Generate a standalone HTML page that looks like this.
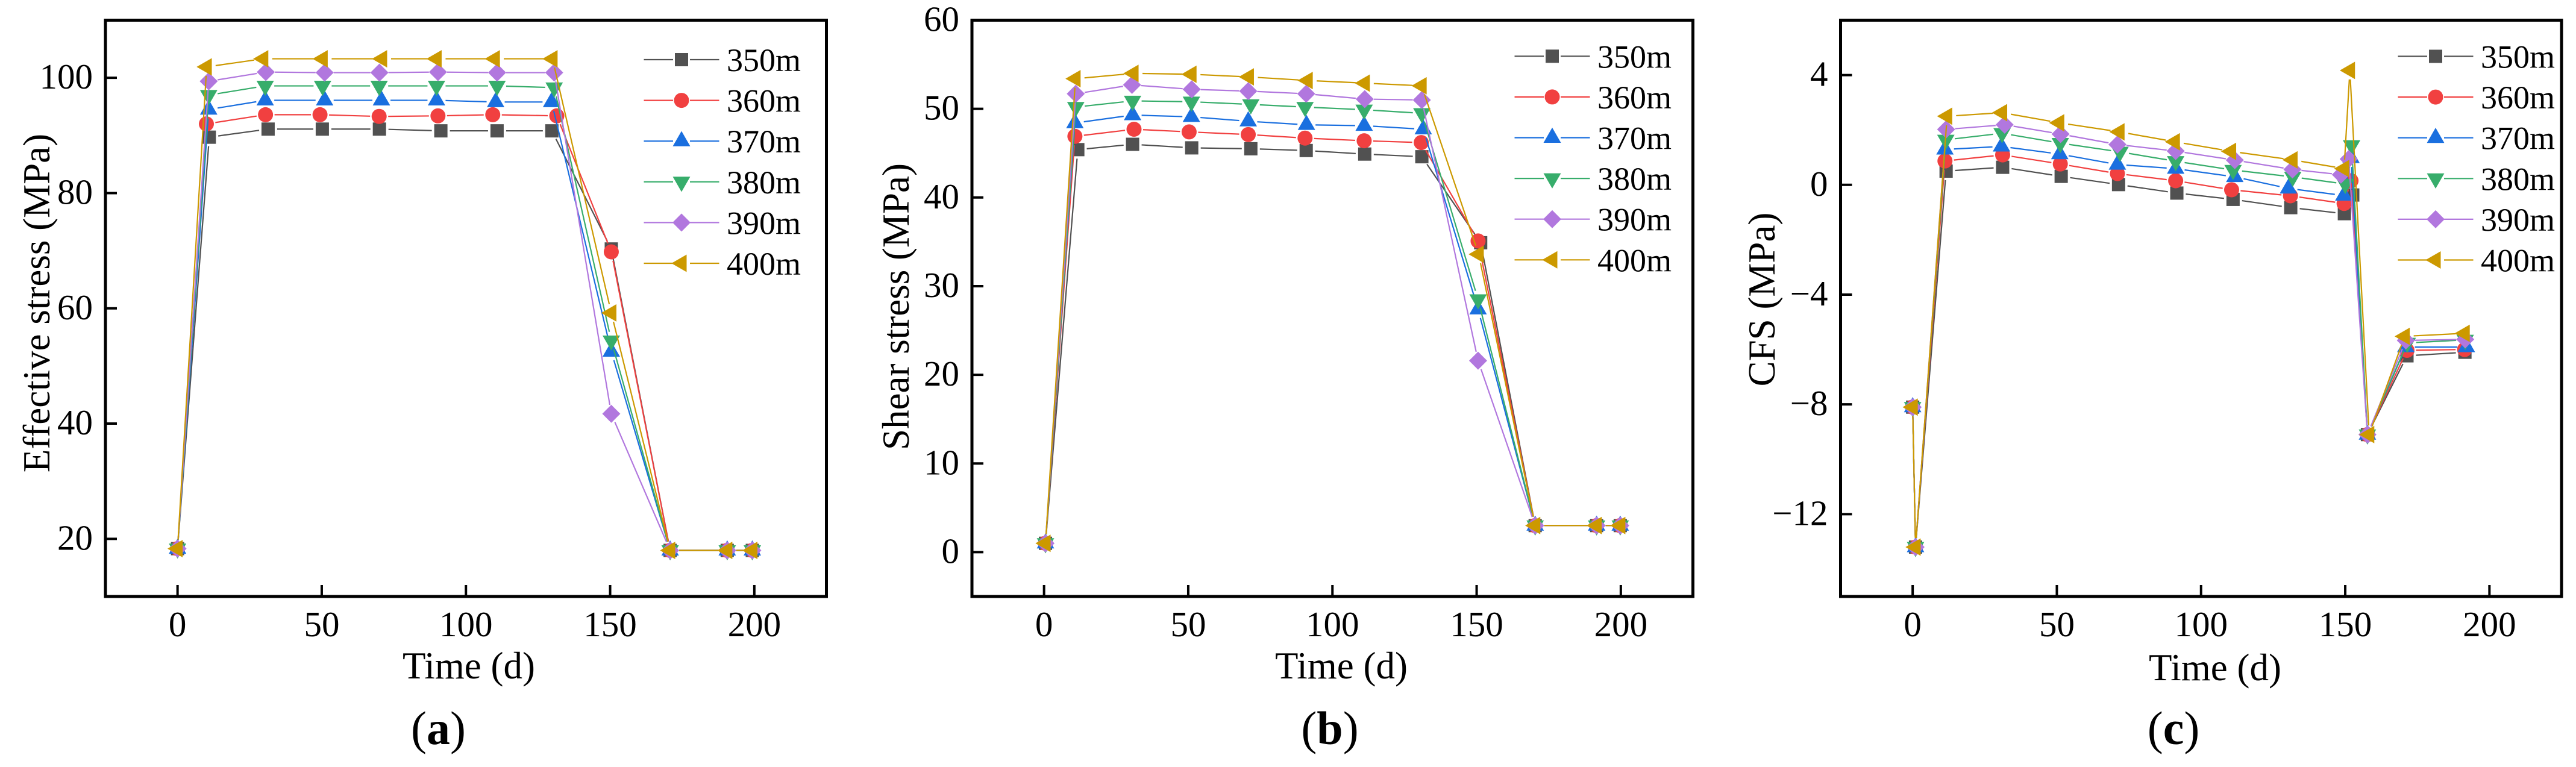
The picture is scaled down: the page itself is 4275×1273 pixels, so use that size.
<!DOCTYPE html>
<html lang="en">
<head>
<meta charset="utf-8">
<title>Effective stress, shear stress and CFS over time</title>
<style>
html,body{margin:0;padding:0;background:#fff;}
body{width:4275px;height:1273px;overflow:hidden;}
svg{display:block;font-family:"Liberation Serif","Times New Roman",serif;fill:#000;}
.frame{fill:none;stroke:#000;stroke-width:5;}
.tick{stroke:#000;stroke-width:4;}
.tick-label{font-size:59px;}
.axis-title{font-size:63px;}
.legend-label{font-size:54px;}
.panel-label{font-size:78px;}
.panel-label tspan{font-weight:bold;}
.line{fill:none;stroke-width:2.2;}
.s0{stroke:#515151;fill:#515151;}
.s1{stroke:#F14040;fill:#F14040;}
.s2{stroke:#1A6FDF;fill:#1A6FDF;}
.s3{stroke:#37AD6B;fill:#37AD6B;}
.s4{stroke:#B177DE;fill:#B177DE;}
.s5{stroke:#CC9900;fill:#CC9900;}
.marker{stroke:none;}
</style>
</head>
<body>
<svg id="figure" xmlns="http://www.w3.org/2000/svg" width="4275" height="1273" viewBox="0 0 4275 1273">
  <rect x="0" y="0" width="4275" height="1273" fill="#fff"/>

  <g id="panel-a">
    <text class="axis-title" text-anchor="middle" transform="translate(82,503) rotate(-90)">Effective stress (MPa)</text>
    <text class="axis-title" text-anchor="middle" x="778" y="1126">Time (d)</text>
    <text class="panel-label" text-anchor="middle" x="727.5" y="1235">(<tspan>a</tspan>)</text>
  </g>

  <g id="panel-b">
    <text class="axis-title" text-anchor="middle" transform="translate(1508,509) rotate(-90)">Shear stress (MPa)</text>
    <text class="axis-title" text-anchor="middle" x="2226" y="1126">Time (d)</text>
    <text class="panel-label" text-anchor="middle" x="2207" y="1235">(<tspan>b</tspan>)</text>
  </g>

  <g id="panel-c">
    <text class="axis-title" text-anchor="middle" transform="translate(2945,497) rotate(-90)">CFS (MPa)</text>
    <text class="axis-title" text-anchor="middle" x="3676" y="1129">Time (d)</text>
    <text class="panel-label" text-anchor="middle" x="3607" y="1235">(<tspan>c</tspan>)</text>
  </g>
</svg>

<script>
const seriesLabels = ['350m', '360m', '370m', '380m', '390m', '400m'];
const xTickValues = [0, 50, 100, 150, 200];
const xTickLabels = ['0', '50', '100', '150', '200'];

/* Panel (a): effective stress */
const aYTickValues = [20, 40, 60, 80, 100];
const aYTickLabels = ['20', '40', '60', '80', '100'];
const aTime350 = [0, 11, 31.4, 50.2, 70, 91.3, 110.8, 129.8, 150.4, 170.8, 190.6, 199.3];
const aTime360 = [0, 10, 30.5, 49.4, 69.9, 90.3, 109.3, 131.5, 150.4, 170.8, 190.6, 199.3];
const aTime370 = [0, 10.8, 30.4, 51, 70.7, 89.8, 110.3, 129.7, 150.4, 170.8, 190.6, 199.3];
const aTime380 = [0, 10.8, 30.4, 50.3, 69.9, 89.8, 110.8, 130.6, 150.4, 170.8, 190.6, 199.3];
const aTime390 = [0, 10.8, 30.6, 51, 70, 90.3, 110.8, 130.6, 150.4, 170.8, 190.6, 199.3];
const aTime400 = [0, 10.1, 29.7, 50.3, 70.9, 89.8, 110, 130, 150.4, 170.8, 190.6, 199.3];
const aValue350 = [18.3, 89.7, 91.1, 91.1, 91.1, 90.8, 90.8, 90.8, 70.3, 18, 18, 18];
const aValue360 = [18.3, 92, 93.6, 93.6, 93.3, 93.4, 93.6, 93.4, 69.8, 18, 18, 18];
const aValue370 = [18.3, 94.5, 96.1, 96.1, 96.1, 96.1, 95.8, 95.8, 52.5, 18, 18, 18];
const aValue380 = [18.3, 97, 98.6, 98.6, 98.6, 98.6, 98.6, 98.3, 54.4, 18, 18, 18];
const aValue390 = [18.3, 99.4, 101, 100.9, 100.9, 101, 100.9, 100.9, 41.7, 18, 18, 18];
const aValue400 = [18.3, 101.9, 103.3, 103.3, 103.3, 103.3, 103.3, 103.3, 59.2, 18, 18, 18];

/* Panel (b): shear stress */
const bYTickValues = [0, 10, 20, 30, 40, 50, 60];
const bYTickLabels = ['0', '10', '20', '30', '40', '50', '60'];
const bTime350 = [0.5, 11.7, 30.7, 51.2, 71.7, 90.9, 111.2, 131, 151.4, 170.3, 191.6, 199.8];
const bTime360 = [0.5, 10.7, 31.2, 50.3, 70.8, 90.5, 111, 130.8, 150.5, 170.3, 191.6, 199.8];
const bTime370 = [0.5, 10.7, 30.7, 51.1, 70.8, 91, 111, 131.5, 150.5, 170.3, 191.6, 199.8];
const bTime380 = [0.5, 11, 30.7, 51.1, 71.7, 90.5, 111, 131, 150.5, 170.3, 191.6, 199.8];
const bTime390 = [0.5, 11, 30.5, 51.2, 70.8, 90.9, 111.2, 131, 150.5, 170.3, 191.6, 199.8];
const bTime400 = [0.5, 10.9, 31, 51.1, 71, 91.4, 111.2, 130.9, 150.7, 170.3, 191.6, 199.8];
const bValue350 = [1, 45.4, 46, 45.6, 45.5, 45.3, 44.9, 44.6, 34.9, 3, 3, 3];
const bValue360 = [1, 46.9, 47.7, 47.4, 47.1, 46.7, 46.4, 46.2, 35.1, 3, 3, 3];
const bValue370 = [1, 48.4, 49.3, 49.1, 48.6, 48.2, 48.1, 47.7, 27.4, 3, 3, 3];
const bValue380 = [1, 50.2, 50.9, 50.8, 50.5, 50.2, 49.9, 49.5, 28.5, 3, 3, 3];
const bValue390 = [1, 51.7, 52.7, 52.2, 52, 51.7, 51.1, 51, 21.6, 3, 3, 3];
const bValue400 = [1, 53.4, 54, 53.9, 53.6, 53.2, 52.9, 52.6, 33.6, 3, 3, 3];

/* Panel (c): CFS */
const cYTickValues = [-12, -8, -4, 0, 4];
const cYTickLabels = ['\u221212', '\u22128', '\u22124', '0', '4'];
const cTime350 = [0, 1, 11.6, 31.2, 51.5, 71.4, 91.6, 111.1, 131.1, 149.7, 152.6, 157.7, 171.4, 191.5];
const cTime360 = [0, 1, 11.2, 31.2, 51.2, 71, 91.2, 110.6, 131, 149.6, 152, 157.7, 171.4, 191.4];
const cTime370 = [0, 1, 11.2, 30.8, 51, 71, 91.2, 111.7, 130.3, 149.5, 152, 157.7, 171, 192];
const cTime380 = [0, 1, 11.5, 31, 51.2, 71.9, 91.2, 111.1, 131.8, 150, 152.2, 157.7, 171.5, 191.6];
const cTime390 = [0, 1, 11.6, 31.9, 51.3, 71, 91.2, 111.7, 131.7, 148.5, 151.2, 157.7, 171, 191.6];
const cTime400 = [0, 1, 11.95, 31, 50.8, 71.7, 90.9, 110.4, 131.7, 149.6, 151.6, 158.3, 170.6, 191.4];
const cValue350 = [-8.1, -13.2, 0.5, 0.64, 0.31, 0.01, -0.3, -0.53, -0.83, -1.05, -0.37, -9.1, -6.23, -6.1];
const cValue360 = [-8.1, -13.2, 0.87, 1.09, 0.76, 0.41, 0.15, -0.18, -0.4, -0.68, 0.15, -9.1, -6.03, -6];
const cValue370 = [-8.1, -13.2, 1.29, 1.4, 1.12, 0.74, 0.59, 0.29, -0.13, -0.39, 0.98, -9.1, -5.91, -5.91];
const cValue380 = [-8.1, -13.2, 1.64, 1.88, 1.52, 1.2, 0.86, 0.54, 0.29, 0.03, 1.44, -9.1, -5.76, -5.65];
const cValue390 = [-8.1, -13.2, 2.02, 2.19, 1.85, 1.47, 1.23, 0.9, 0.56, 0.37, 0.94, -9.1, -5.67, -5.63];
const cValue400 = [-8.1, -13.2, 2.5, 2.63, 2.26, 1.93, 1.57, 1.22, 0.91, 0.59, 4.17, -9.1, -5.52, -5.41];

const SVG_NS = 'http://www.w3.org/2000/svg';
const X_DOMAIN_MIN = -25;
const X_DOMAIN_MAX = 225;
const FRAME_TOP = 33.5;
const FRAME_BOTTOM = 990;
const LINE_GAP = 15;

function create(tag, parent) {
  const el = document.createElementNS(SVG_NS, tag);
  parent.appendChild(el);
  return el;
}

function drawMarker(parent, seriesIndex, x, y) {
  let el;
  if (seriesIndex === 0) {
    el = create('rect', parent);
    el.setAttribute('x', x - 11);
    el.setAttribute('y', y - 11);
    el.setAttribute('width', 22);
    el.setAttribute('height', 22);
  } else if (seriesIndex === 1) {
    el = create('circle', parent);
    el.setAttribute('cx', x);
    el.setAttribute('cy', y);
    el.setAttribute('r', 12.5);
  } else {
    el = create('polygon', parent);
    let pts;
    if (seriesIndex === 2) {
      pts = [[x, y - 16.7], [x + 14.5, y + 8.5], [x - 14.5, y + 8.5]];
    } else if (seriesIndex === 3) {
      pts = [[x - 14.5, y - 8.5], [x + 14.5, y - 8.5], [x, y + 16.7]];
    } else if (seriesIndex === 4) {
      pts = [[x, y - 15], [x + 15, y], [x, y + 15], [x - 15, y]];
    } else {
      pts = [[x - 16.7, y], [x + 8.5, y - 14.5], [x + 8.5, y + 14.5]];
    }
    el.setAttribute('points', pts.map(function (p) { return p.join(','); }).join(' '));
  }
  el.setAttribute('class', 'marker s' + seriesIndex);
  
  
  return el;
}

function drawPanel(cfg) {
  const root = document.getElementById(cfg.id);
  const xScale = function (t) {
    return cfg.left + (t - X_DOMAIN_MIN) * (cfg.right - cfg.left) / (X_DOMAIN_MAX - X_DOMAIN_MIN);
  };
  const yScale = function (v) {
    return FRAME_BOTTOM - (v - cfg.yMin) * (FRAME_BOTTOM - FRAME_TOP) / (cfg.yMax - cfg.yMin);
  };

  cfg.xTicks.forEach(function (value, i) {
    const x = xScale(value);
    const tick = create('line', root);
    tick.setAttribute('x1', x);
    tick.setAttribute('x2', x);
    tick.setAttribute('y1', FRAME_BOTTOM);
    tick.setAttribute('y2', FRAME_BOTTOM - 19);
    tick.setAttribute('class', 'tick');
    
    
    const label = create('text', root);
    label.setAttribute('x', x);
    label.setAttribute('y', 1056);
    label.setAttribute('text-anchor', 'middle');
    label.setAttribute('class', 'tick-label');
    
    
    label.textContent = cfg.xLabels[i];
  });

  cfg.yTicks.forEach(function (value, i) {
    const y = yScale(value);
    const tick = create('line', root);
    tick.setAttribute('x1', cfg.left);
    tick.setAttribute('x2', cfg.left + 19);
    tick.setAttribute('y1', y);
    tick.setAttribute('y2', y);
    tick.setAttribute('class', 'tick');
    
    
    const label = create('text', root);
    label.setAttribute('x', cfg.left - 21);
    label.setAttribute('y', y + 18);
    label.setAttribute('text-anchor', 'end');
    label.setAttribute('class', 'tick-label');
    
    
    label.textContent = cfg.yLabels[i];
  });

  cfg.series.forEach(function (s, si) {
    const group = create('g', root);
    
    
    const px = s.time.map(xScale);
    const py = s.value.map(yScale);
    for (let i = 0; i + 1 < px.length; i++) {
      const dx = px[i + 1] - px[i];
      const dy = py[i + 1] - py[i];
      const len = Math.hypot(dx, dy);
      if (len <= 2 * LINE_GAP) continue;
      const ux = dx / len;
      const uy = dy / len;
      const seg = create('line', group);
      seg.setAttribute('x1', px[i] + ux * LINE_GAP);
      seg.setAttribute('y1', py[i] + uy * LINE_GAP);
      seg.setAttribute('x2', px[i + 1] - ux * LINE_GAP);
      seg.setAttribute('y2', py[i + 1] - uy * LINE_GAP);
      seg.setAttribute('class', 'line s' + si);
      
      
    }
    px.forEach(function (x, i) {
      drawMarker(group, si, x, py[i]);
    });
  });

  const frame = create('rect', root);
  frame.setAttribute('x', cfg.left);
  frame.setAttribute('y', FRAME_TOP);
  frame.setAttribute('width', cfg.right - cfg.left);
  frame.setAttribute('height', FRAME_BOTTOM - FRAME_TOP);
  frame.setAttribute('class', 'frame');
  
  

  const legend = create('g', root);
  
  
  seriesLabels.forEach(function (text, si) {
    const entry = create('g', legend);
    
    
    const y = cfg.legendTop + si * 67.6;
    const cx = cfg.legendX;
    const leftLine = create('line', entry);
    leftLine.setAttribute('x1', cx - 62.5);
    leftLine.setAttribute('x2', cx - 14);
    leftLine.setAttribute('y1', y);
    leftLine.setAttribute('y2', y);
    leftLine.setAttribute('class', 'line s' + si);
    
    
    const rightLine = create('line', entry);
    rightLine.setAttribute('x1', cx + 14);
    rightLine.setAttribute('x2', cx + 62.5);
    rightLine.setAttribute('y1', y);
    rightLine.setAttribute('y2', y);
    rightLine.setAttribute('class', 'line s' + si);
    
    
    drawMarker(entry, si, cx, y);
    const label = create('text', entry);
    label.setAttribute('x', cx + 75);
    label.setAttribute('y', y + 19);
    label.setAttribute('class', 'legend-label');
    
    
    label.textContent = text;
  });
}

drawPanel({
  id: 'panel-a', left: 175, right: 1371.5, yMin: 10, yMax: 110,
  xTicks: xTickValues, xLabels: xTickLabels,
  yTicks: aYTickValues, yLabels: aYTickLabels,
  legendX: 1131, legendTop: 99,
  series: [
    { time: aTime350, value: aValue350 },
    { time: aTime360, value: aValue360 },
    { time: aTime370, value: aValue370 },
    { time: aTime380, value: aValue380 },
    { time: aTime390, value: aValue390 },
    { time: aTime400, value: aValue400 }
  ]
});

drawPanel({
  id: 'panel-b', left: 1613, right: 2809.5, yMin: -5, yMax: 60,
  xTicks: xTickValues, xLabels: xTickLabels,
  yTicks: bYTickValues, yLabels: bYTickLabels,
  legendX: 2576, legendTop: 93.3,
  series: [
    { time: bTime350, value: bValue350 },
    { time: bTime360, value: bValue360 },
    { time: bTime370, value: bValue370 },
    { time: bTime380, value: bValue380 },
    { time: bTime390, value: bValue390 },
    { time: bTime400, value: bValue400 }
  ]
});

drawPanel({
  id: 'panel-c', left: 3054.5, right: 4251, yMin: -15, yMax: 6,
  xTicks: xTickValues, xLabels: xTickLabels,
  yTicks: cYTickValues, yLabels: cYTickLabels,
  legendX: 4042, legendTop: 93.5,
  series: [
    { time: cTime350, value: cValue350 },
    { time: cTime360, value: cValue360 },
    { time: cTime370, value: cValue370 },
    { time: cTime380, value: cValue380 },
    { time: cTime390, value: cValue390 },
    { time: cTime400, value: cValue400 }
  ]
});
</script>
</body>
</html>
